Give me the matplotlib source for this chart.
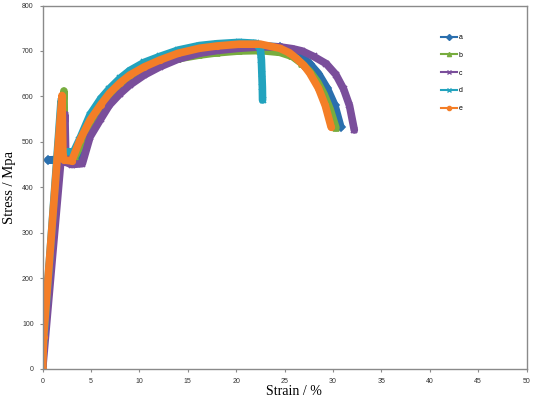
import matplotlib
matplotlib.use('Agg')
import matplotlib.pyplot as plt
from matplotlib.lines import Line2D

# sample curves (strain %, stress MPa)
strain_a = [0, 1.9, 1.95, 0.6, 2.3, 3.6, 4.2, 4.9, 6.0, 6.9, 8.0, 9.0, 10.5, 12.1, 14.0, 16.2,
            18.0, 20.3, 22.5, 24.5, 25.8, 26.8, 27.6, 28.5, 29.4, 30.2, 30.8]
stress_a = [40, 540, 462, 460, 460, 462, 490, 535, 570, 595, 620, 638, 658, 675, 690, 702,
            707, 711, 712, 709, 700, 688, 672, 650, 618, 580, 533]

strain_b = [0, 0.1, 2.2, 2.3, 3.3, 4.0, 4.9, 6.0, 6.9, 8.0, 9.0, 10.5, 12.1, 14.0, 16.2, 18.0,
            20.3, 22.5, 24.5, 25.8, 26.8, 27.6, 28.4, 29.1, 29.7, 30.3]
stress_b = [0, 50, 612, 468, 466, 495, 540, 572, 595, 618, 637, 655, 672, 683, 691, 696,
            700, 701, 697, 688, 672, 655, 632, 604, 572, 531]

strain_c = [0, 2.3, 2.4, 3.0, 4.1, 4.9, 6.0, 6.9, 8.0, 9.0, 10.5, 12.1, 14.0, 16.2, 18.0, 20.3,
            22.5, 24.5, 25.8, 26.8, 28.0, 29.3, 30.3, 31.1, 31.7, 32.2]
stress_c = [0, 560, 455, 450, 452, 511, 550, 581, 606, 625, 647, 665, 682, 695, 701, 706,
            709, 709, 705, 700, 688, 672, 648, 616, 580, 526]

strain_d = [0, 1.9, 2.0, 2.2, 3.2, 3.8, 4.9, 6.0, 6.9, 8.0, 9.0, 10.5, 12.1, 14.0, 16.2, 18.0,
            20.3, 22.0, 22.5, 22.6, 22.65, 22.7, 22.72]
stress_d = [30, 590, 480, 478, 478, 505, 560, 595, 617, 640, 657, 675, 688, 702, 712, 716,
            719, 717, 705, 680, 650, 620, 592]

strain_e = [0, 0.1, 2.0, 2.1, 2.2, 3.0, 3.85, 4.9, 6.0, 6.9, 8.0, 9.0, 10.5, 12.1, 14.0, 16.2,
            18.0, 20.3, 22.5, 24.5, 25.5, 26.2, 27.0, 27.6, 28.5, 29.2, 29.8]
stress_e = [0, 70, 602, 470, 460, 458, 504, 548, 582, 607, 630, 647, 665, 680, 695, 706,
            711, 715, 715, 706, 696, 684, 668, 651, 618, 580, 533]

names = ['a', 'b', 'c', 'd', 'e']
colors = ['#2A6FAE', '#77AC3E', '#7A4E9B', '#22A3BE', '#F47E27']
markers = ['D', '^', 'x', 'x', 'o']

fig = plt.figure(figsize=(5.33, 3.98), dpi=100)
ax = fig.add_axes([0.080, 0.073, 0.908, 0.913])

series = [(strain_a, stress_a), (strain_b, stress_b), (strain_c, stress_c),
          (strain_d, stress_d), (strain_e, stress_e)]
for (x, y), c, m in zip(series, colors, markers):
    ax.plot(x, y, color=c, lw=5.5, marker=m, ms=4, mew=1.2, solid_capstyle='round',
            solid_joinstyle='round')

ax.set_xlim(0, 50)
ax.set_ylim(0, 800)
ax.set_xticks(range(0, 51, 5))
ax.set_yticks(range(0, 801, 100))
for s in ax.spines.values():
    s.set_color('#8a8a8a')
    s.set_linewidth(1.0)
ax.tick_params(length=2.5, width=0.8, color='#8a8a8a', labelsize=5, pad=4,
               labelcolor='#333333')
for lab in ax.get_xticklabels() + ax.get_yticklabels():
    lab.set_family('Liberation Sans')

fig.text(0.551, 0.0, 'Strain / %', family='Liberation Serif', fontsize=10,
         ha='center', va='bottom')
fig.text(0.005, 0.53, 'Stress / Mpa', family='Liberation Serif', fontsize=10.5,
         ha='left', va='center', rotation=90)

# legend
handles = [Line2D([0], [0], color=c, lw=1.5, marker=m, ms=3, mew=1)
           for c, m in zip(colors, markers)]
fig.legend(handles, names, loc='upper left', bbox_to_anchor=(0.815, 0.93), frameon=False,
           handlelength=2.3, handletextpad=0.3, labelspacing=1.55,
           prop={'family': 'Liberation Sans', 'size': 5})

fig.savefig('out.png', dpi=100)
